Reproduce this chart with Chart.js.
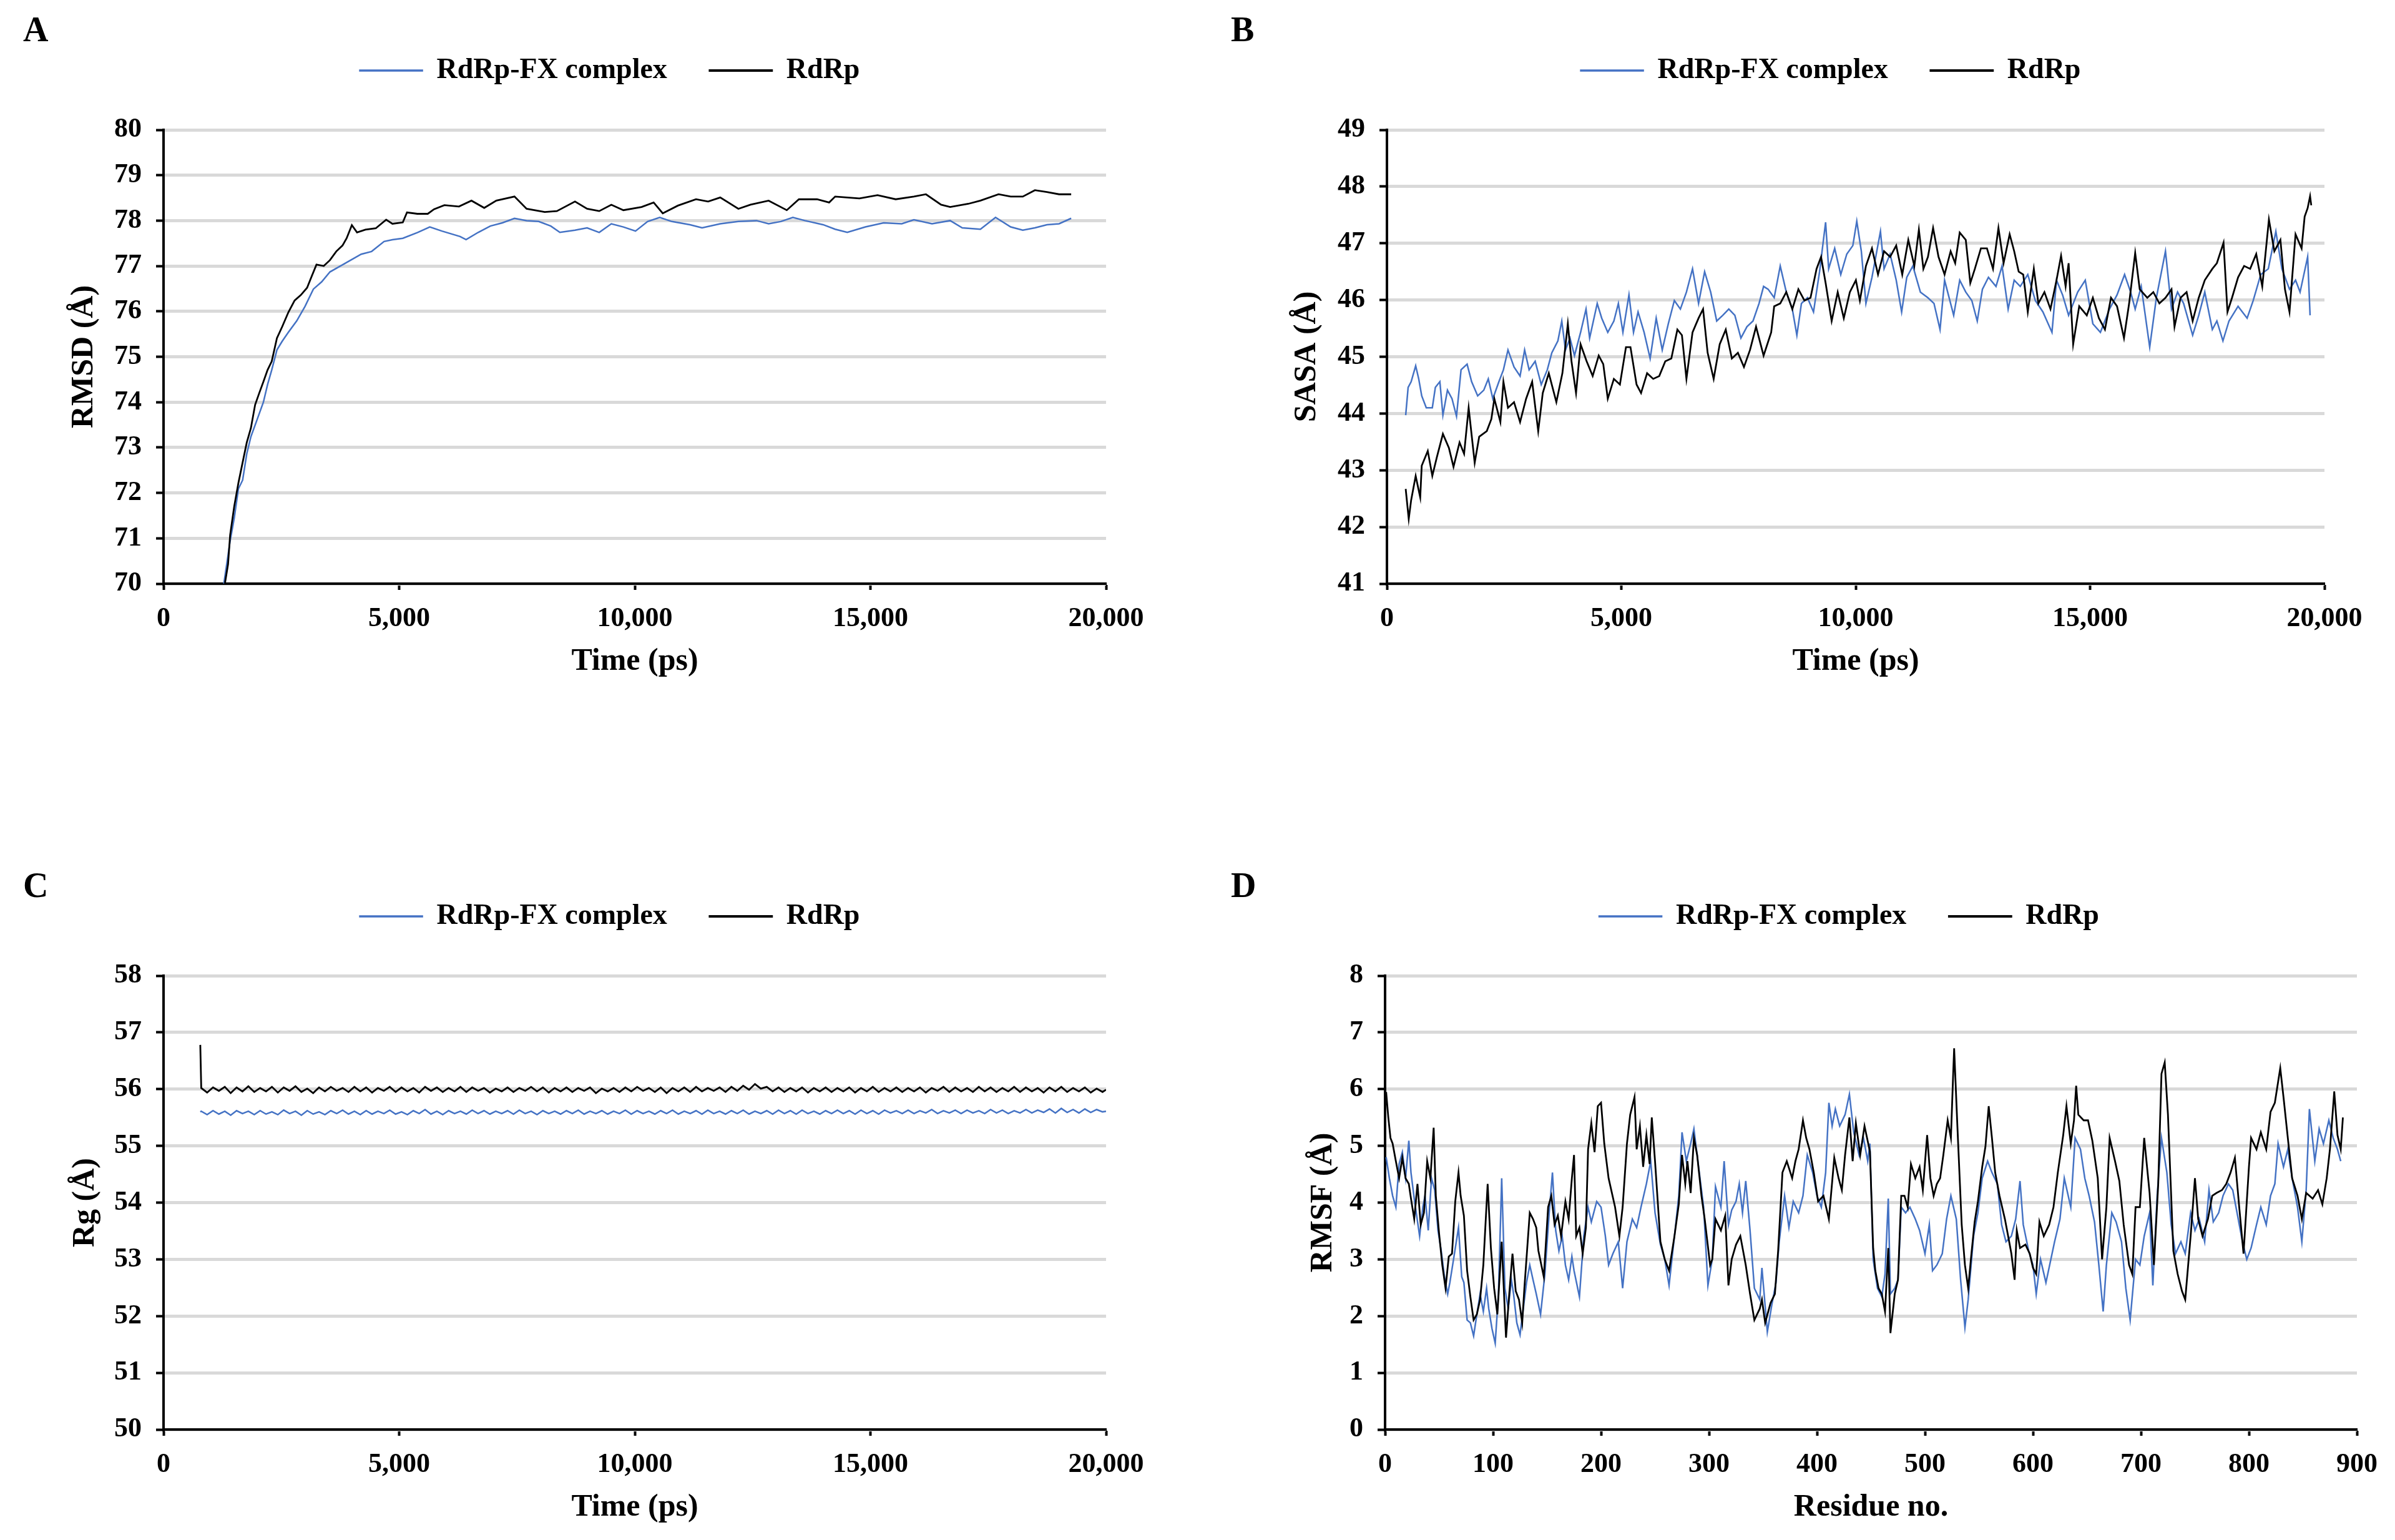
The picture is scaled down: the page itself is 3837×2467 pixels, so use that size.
<!DOCTYPE html>
<html>
<head>
<meta charset="utf-8">
<script src="https://cdn.jsdelivr.net/npm/chart.js@4.4.1/dist/chart.umd.min.js"></script>
<style>
  html, body { margin: 0; padding: 0; background: #fff; }
  #page { position: relative; width: 3837px; height: 2467px; background: #fff; overflow: hidden; }
  .panel { position: absolute; }
  .tag { position: absolute; font: bold 56px 'Liberation Serif', 'Times New Roman', serif; line-height: 1; color: #000; }
</style>
</head>
<body>
<div id="page">
  <div class="tag" style="left:37px;top:19px">A</div>
  <div class="tag" style="left:1972px;top:19px">B</div>
  <div class="tag" style="left:37px;top:1390px">C</div>
  <div class="tag" style="left:1972px;top:1390px">D</div>
  <canvas id="chartA" class="panel" width="1880" height="1095" style="left:0;top:0"></canvas>
  <canvas id="chartB" class="panel" width="1937" height="1095" style="left:1900px;top:0"></canvas>
  <canvas id="chartC" class="panel" width="1880" height="1095" style="left:0;top:1355px"></canvas>
  <canvas id="chartD" class="panel" width="1937" height="1095" style="left:1900px;top:1355px"></canvas>
</div>
<script>
// series names
var seriesNames = ['RdRp-FX complex', 'RdRp']

// A: RMSD vs time
var rmsdComplexTime = [1280,1413,1501,1589,1678,1766,1854,1987,2119,2208,2296,2406,2517,2649,2826,3002,3179,3355,3532,3753,3974,4194,4415,4680,4857,5077,5393,5650,5906,6292,6420,6677,6934,7190,7447,7704,7961,8218,8410,8731,8988,9245,9502,9758,10015,10272,10529,10786,11171,11428,11813,12198,12583,12840,13097,13354,13610,13996,14252,14509,14894,15280,15665,15922,16307,16692,16949,17334,17655,17976,18233,18490,18746,19003,19260]
var rmsdComplex = [70.0,70.94,71.45,72.09,72.28,72.86,73.24,73.62,74.0,74.39,74.71,75.15,75.34,75.54,75.79,76.11,76.49,76.65,76.87,77.0,77.13,77.26,77.32,77.54,77.58,77.61,77.74,77.86,77.77,77.65,77.58,77.74,77.88,77.95,78.05,78.0,77.98,77.88,77.74,77.79,77.84,77.74,77.93,77.86,77.77,77.98,78.07,77.98,77.91,77.84,77.93,77.98,78.0,77.93,77.98,78.07,78.0,77.91,77.81,77.74,77.86,77.95,77.93,78.02,77.93,78.0,77.84,77.81,78.07,77.86,77.79,77.84,77.91,77.93,78.05]
var rmsdApoTime = [1302,1369,1413,1501,1589,1678,1766,1854,1943,2031,2119,2208,2296,2406,2517,2649,2781,2914,3046,3135,3245,3400,3532,3664,3797,3885,3996,4106,4283,4503,4724,4857,5077,5166,5386,5607,5740,5960,6269,6534,6805,7062,7447,7704,8089,8346,8731,8988,9245,9502,9758,10144,10400,10593,10914,11299,11556,11813,12198,12455,12840,13225,13482,13867,14124,14252,14766,15151,15536,15922,16178,16499,16692,17077,17334,17719,17976,18233,18490,18746,19003,19260]
var rmsdApo = [70.0,70.43,71.07,71.71,72.22,72.67,73.11,73.43,73.94,74.2,74.45,74.71,74.9,75.41,75.66,75.98,76.24,76.36,76.52,76.75,77.03,77.0,77.13,77.32,77.45,77.61,77.9,77.74,77.8,77.83,78.02,77.93,77.96,78.18,78.15,78.15,78.25,78.34,78.31,78.44,78.28,78.44,78.53,78.26,78.19,78.21,78.42,78.26,78.21,78.35,78.23,78.30,78.40,78.16,78.33,78.47,78.42,78.51,78.26,78.35,78.44,78.23,78.47,78.47,78.40,78.53,78.49,78.56,78.47,78.53,78.58,78.35,78.30,78.37,78.44,78.58,78.53,78.53,78.67,78.63,78.58,78.58]

// B: SASA vs time
var sasaComplexTime = [400,452,516,613,678,742,839,968,1033,1129,1194,1291,1388,1484,1581,1710,1807,1936,2065,2162,2259,2388,2485,2582,2711,2840,2937,3033,3162,3292,3421,3517,3647,3730,3808,3905,4001,4131,4247,4324,4486,4582,4711,4841,4937,5034,5163,5260,5357,5486,5615,5744,5873,6002,6131,6260,6389,6519,6648,6777,6906,7035,7164,7293,7422,7551,7680,7809,7938,8035,8132,8261,8390,8519,8648,8745,8842,8971,9100,9229,9358,9423,9552,9681,9810,9939,10023,10120,
  10218,10347,10528,10605,10734,10864,10980,11089,11219,11380,11541,11670,11799,11896,12090,12219,12348,12477,12593,12703,12832,12993,13122,13252,13381,13510,13671,13832,13994,14187,14284,14413,14542,14736,14897,15059,15220,15414,15575,15736,15865,15962,16091,16272,16414,16608,16737,16866,16995,17188,17318,17447,17608,17705,17834,17963,18157,18350,18479,18641,18802,18963,19092,19254,19383,19480,19641,19693]
var sasaComplex = [43.97,44.46,44.56,44.84,44.61,44.31,44.10,44.10,44.46,44.56,43.97,44.41,44.26,43.95,44.77,44.87,44.56,44.31,44.41,44.61,44.26,44.56,44.77,45.12,44.82,44.66,45.12,44.77,44.92,44.51,44.77,45.07,45.28,45.63,45.12,45.33,45.02,45.43,45.84,45.33,45.94,45.68,45.43,45.63,45.94,45.43,46.09,45.43,45.79,45.43,44.97,45.68,45.12,45.58,45.99,45.84,46.14,46.55,45.94,46.50,46.14,45.63,45.73,45.84,45.73,45.33,45.53,45.63,45.94,46.24,46.19,46.04,46.60,46.14,45.84,45.38,45.94,46.04,45.79,46.50,47.37,46.55,46.91,46.45,46.81,46.96,47.39,46.86,
  45.94,46.40,47.21,46.55,46.81,46.35,45.79,46.40,46.60,46.14,46.04,45.94,45.48,46.35,45.73,46.35,46.14,45.99,45.63,46.19,46.40,46.24,46.60,45.84,46.35,46.24,46.45,45.99,45.79,45.43,46.35,46.09,45.73,46.14,46.35,45.58,45.43,45.84,46.09,46.45,46.14,45.84,46.24,45.17,46.04,46.86,45.84,46.14,45.94,45.38,45.73,46.14,45.48,45.63,45.28,45.63,45.89,45.68,45.99,46.45,46.55,47.21,46.55,46.19,46.35,46.14,46.76,45.73]
var sasaApoTime = [400,465,516,613,710,742,871,968,1065,1194,1323,1420,1549,1646,1743,1872,1968,2130,2227,2291,2420,2485,2582,2711,2840,2969,3098,3227,3324,3453,3614,3743,3859,3937,4034,4131,4260,4389,4518,4615,4711,4841,4970,5099,5195,5325,5421,5550,5680,5809,5938,6067,6196,6293,6389,6519,6648,6744,6841,6970,7099,7228,7358,7487,7616,7745,7874,8035,8197,8261,8390,8519,8648,8777,8907,9036,9165,9261,9358,9487,9616,9746,9875,10004,
  10089,10218,10347,10476,10605,10734,10864,10993,11122,11251,11348,11444,11541,11651,11767,11896,12025,12122,12219,12348,12445,12542,12671,12800,12929,13045,13155,13284,13381,13477,13574,13671,13800,13897,14026,14155,14284,14381,14478,14542,14639,14768,14930,15059,15188,15317,15446,15575,15723,15833,15962,16059,16220,16349,16478,16608,16737,16801,16930,17059,17188,17318,17447,17608,17705,17847,17931,18028,18157,18286,18415,18544,18673,18815,18931,19060,19157,19254,19383,19512,19577,19641,19693,19718]
var sasaApo = [42.67,42.14,42.47,42.90,42.52,43.08,43.34,42.90,43.23,43.64,43.39,43.06,43.49,43.29,44.10,43.13,43.59,43.69,43.90,44.26,43.85,44.56,44.10,44.20,43.85,44.26,44.56,43.69,44.36,44.71,44.20,44.71,45.58,44.92,44.36,45.22,44.92,44.66,45.02,44.87,44.26,44.61,44.51,45.17,45.17,44.51,44.36,44.71,44.61,44.66,44.92,44.97,45.48,45.38,44.61,45.43,45.68,45.84,45.07,44.61,45.22,45.48,44.97,45.07,44.82,45.12,45.53,45.02,45.43,45.89,45.94,46.14,45.84,46.19,45.99,46.04,46.55,46.76,46.30,45.63,46.14,45.68,46.14,46.35,
  45.99,46.60,46.91,46.45,46.86,46.76,46.96,46.45,47.06,46.60,47.24,46.55,46.76,47.27,46.76,46.45,46.86,46.65,47.19,47.06,46.30,46.55,46.91,46.91,46.55,47.27,46.65,47.16,46.86,46.50,46.45,45.79,46.55,45.94,46.14,45.84,46.35,46.78,46.24,46.65,45.22,45.89,45.73,46.04,45.68,45.48,46.04,45.89,45.33,45.94,46.83,46.19,46.04,46.14,45.94,46.04,46.19,45.53,46.04,46.14,45.63,46.04,46.35,46.55,46.65,47.01,45.79,46.04,46.40,46.60,46.55,46.81,46.24,47.42,46.86,47.06,46.19,45.79,47.16,46.91,47.47,47.62,47.83,47.67]

// C: Rg vs time (both series share the time stamps)
var rgTime = [780,800,925,1050,1175,1300,1425,1550,1675,1800,1925,2050,2175,2300,2425,2550,2675,2800,2925,3050,3175,3300,3425,3550,3675,3800,3925,4050,4175,4300,4425,4550,4675,4800,4925,5050,5175,5300,5425,5550,5675,5800,5925,6050,6175,6300,6425,6550,6675,6800,6925,7050,7175,7300,7425,7550,7675,7800,7925,8050,8175,8300,8425,8550,8675,8800,8925,9050,9175,9300,9425,9550,9675,9800,9925,10050,10175,10300,10425,10550,10675,10800,10925,11050,11175,11300,11425,11550,11675,11800,11925,12050,12175,12300,12425,12550,12675,12800,12925,13050,13175,13300,13425,13550,13675,13800,13925,14050,14175,14300,14425,14550,14675,14800,14925,15050,15175,15300,15425,15550,15675,15800,15925,16050,16175,16300,16425,16550,16675,16800,16925,17050,17175,17300,17425,17550,17675,17800,17925,18050,18175,18300,18425,18550,18675,18800,18925,19050,19175,19300,19425,19550,19675,19800,19925,20000]
var rgComplex = [55.60,
  55.61,55.55,55.62,55.56,55.61,55.54,55.62,55.57,55.61,55.55,
  55.62,55.56,55.60,55.55,55.63,55.57,55.61,55.54,55.62,55.56,
  55.60,55.55,55.62,55.57,55.63,55.56,55.61,55.55,55.62,55.56,
  55.61,55.57,55.63,55.56,55.60,55.55,55.62,55.57,55.64,55.56,
  55.61,55.55,55.62,55.57,55.61,55.56,55.63,55.57,55.62,55.56,
  55.61,55.57,55.62,55.56,55.63,55.57,55.61,55.55,55.62,55.57,
  55.61,55.56,55.62,55.57,55.63,55.56,55.61,55.57,55.62,55.56,
  55.61,55.57,55.63,55.56,55.62,55.57,55.61,55.56,55.62,55.57,
  55.63,55.56,55.61,55.57,55.62,55.56,55.63,55.57,55.61,55.56,
  55.62,55.57,55.63,55.56,55.61,55.57,55.62,55.56,55.63,55.57,
  55.62,55.56,55.63,55.57,55.61,55.56,55.62,55.57,55.63,55.57,
  55.62,55.56,55.63,55.57,55.62,55.56,55.63,55.58,55.62,55.57,
  55.63,55.57,55.62,55.58,55.64,55.57,55.62,55.58,55.63,55.57,
  55.63,55.58,55.62,55.57,55.64,55.58,55.63,55.57,55.62,55.58,
  55.64,55.58,55.63,55.59,55.65,55.58,55.66,55.59,55.64,55.58,
  55.65,55.59,55.64,55.60,55.61]
var rgApo = [56.78,
  56.02,55.94,56.03,55.97,56.04,55.93,56.03,55.96,56.05,55.95,
  56.02,55.96,56.04,55.94,56.03,55.97,56.05,55.95,56.01,55.93,
  56.03,55.96,56.04,55.97,56.02,55.95,56.04,55.96,56.03,55.94,
  56.02,55.97,56.04,55.95,56.03,55.96,56.02,55.94,56.04,55.97,
  56.03,55.95,56.02,55.96,56.04,55.95,56.03,55.97,56.02,55.94,
  56.01,55.96,56.03,55.95,56.02,55.97,56.04,55.96,56.03,55.94,
  56.02,55.96,56.03,55.95,56.02,55.97,56.03,55.93,56.01,55.96,
  56.02,55.95,56.03,55.96,56.04,55.97,56.02,55.95,56.03,55.93,
  56.02,55.96,56.03,55.95,56.04,55.96,56.02,55.97,56.03,55.95,
  56.04,55.97,56.06,55.99,56.09,56.01,56.04,55.96,56.03,55.95,
  56.02,55.96,56.03,55.94,56.02,55.96,56.03,55.95,56.02,55.96,
  56.03,55.94,56.02,55.96,56.04,55.95,56.02,55.96,56.03,55.95,
  56.02,55.96,56.03,55.94,56.02,55.97,56.04,55.95,56.03,55.96,
  56.02,55.95,56.04,55.96,56.03,55.95,56.02,55.96,56.04,55.95,
  56.03,55.96,56.02,55.94,56.03,55.96,56.04,55.95,56.02,55.96,
  56.03,55.94,56.01,55.95,55.99]

// D: RMSF per residue
var rmsfComplexRes = [1,4,7,10,13,16,19,22,24,27,32,35,37,40,43,46,49,52,55,58,60,63,68,71,73,76,79,82,85,88,91,94,96,99,102,105,108,111,114,117,119,122,125,128,131,134,137,140,144,148,152,155,158,161,164,167,170,173,175,180,184,188,191,196,200,204,207,211,216,220,224,229,233,237,242,246,250,255,259,263,268,272,275,279,283,286,291,295,299,303,306,311,314,318,321,325,328,331,334,338,342,347,349,354,358,362,365,370,374,378,383,387,391,396,400,404,408,411,414,417,421,426,430,434,439,443,447,
  449,452,456,460,463,466,468,472,475,478,482,486,491,495,500,504,507,511,516,520,524,529,533,537,540,545,549,553,558,562,567,571,575,580,584,588,591,596,600,603,607,612,616,620,625,629,635,639,644,648,652,657,661,665,668,673,677,682,686,690,695,699,703,708,711,715,719,724,728,732,737,741,746,750,754,759,763,767,772,776,781,785,789,794,798,802,807,811,816,820,824,827,832,836,840,845,849,853,856,861,865,869,874,878,882,885]
var rmsfComplex = [4.8,4.43,4.12,3.92,4.68,4.89,4.43,5.09,4.53,4.07,3.41,3.92,4.12,3.51,4.43,4.22,3.51,3.15,2.69,2.39,2.59,2.95,3.56,2.69,2.59,1.93,1.88,1.65,2.03,2.39,2.08,2.49,2.13,1.78,1.52,2.39,4.43,2.49,2.13,2.64,2.39,1.88,1.67,2.13,2.59,2.90,2.64,2.39,2.03,2.74,3.82,4.53,3.51,3.15,3.41,2.90,2.64,3.05,2.80,2.34,3.41,3.92,3.66,4.02,3.92,3.41,2.90,3.10,3.31,2.49,3.31,3.71,3.56,3.92,4.33,4.73,3.82,3.26,3.0,2.54,3.41,4.12,5.24,4.73,5.04,5.30,4.53,3.92,2.54,3.0,4.28,3.92,4.73,3.61,3.87,4.02,4.33,3.82,4.38,3.51,2.49,2.29,2.85,1.72,2.18,2.59,3.31,4.12,3.56,4.02,3.82,4.12,4.84,4.53,4.12,3.92,4.53,5.76,5.35,5.65,5.35,5.55,5.91,5.24,4.84,5.14,4.73,
  5.04,3.0,2.49,2.34,2.74,4.07,2.39,2.49,2.64,3.92,3.82,3.92,3.71,3.51,3.10,3.61,2.80,2.90,3.10,3.71,4.12,3.71,2.64,1.80,2.29,3.41,3.82,4.43,4.73,4.53,4.33,3.61,3.31,3.41,3.71,4.38,3.61,3.15,2.90,2.39,3.0,2.59,2.95,3.31,3.71,4.43,3.92,5.14,4.94,4.43,4.12,3.66,2.90,2.08,2.90,3.82,3.66,3.31,2.49,1.93,3.0,2.90,3.41,3.82,2.54,4.12,5.14,4.53,3.61,3.10,3.31,3.10,3.82,3.51,3.71,3.31,4.22,3.66,3.82,4.12,4.33,4.22,3.82,3.31,3.0,3.20,3.61,3.92,3.61,4.12,4.33,5.04,4.63,4.94,4.43,3.92,3.31,4.22,5.65,4.73,5.30,5.04,5.45,5.14,4.94,4.73]
var rmsfApoRes = [1,3,5,7,10,13,16,19,22,24,27,30,33,36,39,42,45,47,50,53,56,59,62,65,68,70,73,76,79,82,85,88,91,95,98,101,104,108,112,115,118,121,124,127,129,134,137,140,142,147,151,154,157,160,163,167,170,173,175,177,180,183,186,188,191,194,197,200,203,207,213,217,220,224,227,231,233,236,239,242,245,247,250,255,259,263,268,272,275,278,280,283,286,289,293,296,301,303,306,311,315,318,321,325,329,334,338,342,347,349,352,357,361,364,368,372,377,380,383,387,390,393,397,401,406,411,416,420,423,426,430,433,436,440,444,449,
  452,454,457,460,463,466,468,472,475,478,481,484,487,491,495,498,502,505,508,511,514,517,521,524,526,527,530,534,537,540,543,546,549,553,556,559,562,565,569,574,577,580,583,585,588,593,597,600,603,606,610,615,619,623,628,631,635,638,640,642,647,651,655,660,664,668,671,676,680,684,689,692,695,699,703,708,712,716,719,722,725,730,734,738,741,746,750,753,757,762,766,770,775,779,783,787,791,795,800,802,807,811,816,820,824,829,832,836,840,845,849,853,859,864,868,872,875,879,882,885,887]
var rmsfApo = [5.95,5.5,5.14,5.04,4.73,4.43,4.79,4.43,4.33,4.07,3.71,4.33,3.61,3.82,4.73,4.43,5.32,4.12,3.46,2.90,2.49,3.05,3.10,4.02,4.53,4.12,3.77,2.80,2.34,1.93,2.03,2.29,2.90,4.33,3.20,2.49,2.03,3.31,1.62,2.39,3.10,2.44,2.29,1.88,2.49,3.82,3.71,3.56,3.15,2.69,3.92,4.12,3.61,3.77,3.41,4.02,3.71,4.43,4.84,3.41,3.56,3.10,3.56,4.94,5.40,4.89,5.70,5.76,5.04,4.43,3.92,3.41,3.92,5.04,5.55,5.86,4.94,5.35,4.63,5.19,4.68,5.50,4.73,3.31,3.0,2.80,3.41,3.97,4.84,4.33,4.73,4.17,5.14,4.84,4.12,3.71,2.90,3.0,3.71,3.51,3.77,2.54,3.0,3.26,3.41,2.90,2.39,1.93,2.13,2.29,1.88,2.23,2.39,3.15,4.53,4.73,4.43,4.73,4.94,5.45,5.14,4.94,4.53,4.02,4.12,3.71,4.79,4.43,4.22,4.84,5.50,4.73,5.40,4.84,5.35,4.9,
  3.20,2.80,2.49,2.39,2.08,3.20,1.70,2.39,2.64,4.12,4.12,3.92,4.68,4.43,4.63,4.22,5.19,4.43,4.12,4.33,4.43,4.84,5.45,5.14,6.21,6.72,5.35,3.61,2.90,2.49,3.10,3.66,4.02,4.63,4.99,5.70,5.14,4.53,4.12,3.71,3.41,3.10,2.64,3.51,3.20,3.26,3.10,2.85,2.74,3.66,3.41,3.61,3.92,4.53,5.19,5.70,5.04,5.45,6.06,5.55,5.45,5.45,5.09,4.43,3.0,3.92,5.14,4.73,4.38,3.61,2.90,2.74,3.92,3.92,5.14,4.17,2.90,4.33,6.27,6.47,5.55,3.15,2.74,2.44,2.29,3.41,4.43,3.71,3.41,3.71,4.12,4.17,4.22,4.33,4.53,4.79,3.92,3.10,4.63,5.14,4.94,5.24,4.94,5.60,5.76,6.37,5.86,5.14,4.43,4.12,3.71,4.17,4.07,4.22,3.97,4.43,4.94,5.96,5.19,4.94,5.50]

var BLUE = '#4472C4'
var BLACK = '#000000'
var GRID = '#d9d9d9'
var FONT = "'Liberation Serif', 'Times New Roman', serif"

Chart.defaults.font.family = FONT
Chart.defaults.font.weight = 'bold'
Chart.defaults.color = '#000'

// nudges the legend to the spot it has in the figure
var legendShift = {
  id: 'legendShift',
  defaults: { dx: 0, dy: 0 },
  afterLayout: function (chart, args, opts) {
    var lg = chart.legend
    lg.left += opts.dx
    lg.right += opts.dx
    lg.top += opts.dy
    lg.bottom += opts.dy
  }
}
Chart.register(legendShift)

function pairs (xs, ys) {
  return xs.map(function (x, i) { return { x: x, y: ys[i] } })
}

function withCommas (v) {
  return Number(v).toLocaleString('en-US')
}

function makePanel (id, spec) {
  var canvas = document.getElementById(id)
  return new Chart(canvas, {
    type: 'line',
    data: {
      datasets: [
        { label: seriesNames[0], data: pairs(spec.complexX, spec.complexY), borderColor: BLUE, backgroundColor: BLUE, borderWidth: 2.5, order: 1 },
        { label: seriesNames[1], data: pairs(spec.apoX, spec.apoY), borderColor: BLACK, backgroundColor: BLACK, borderWidth: 2.8, order: 0 }
      ]
    },
    options: {
      responsive: false,
      animation: false,
      devicePixelRatio: 1,
      layout: { padding: { left: 0, right: spec.padRight, top: 84, bottom: 0 } },
      elements: { point: { radius: 0 }, line: { tension: 0 } },
      plugins: {
        legend: {
          fullSize: false,
          labels: {
            font: { size: 46, weight: 'bold', family: FONT },
            color: '#000',
            boxWidth: 100,
            boxHeight: 1,
            padding: 68,
            sort: function (a, b) { return a.datasetIndex - b.datasetIndex }
          }
        },
        legendShift: { dx: spec.legendDx, dy: -62 },
        tooltip: { enabled: false }
      },
      scales: {
        x: {
          type: 'linear',
          min: spec.xMin,
          max: spec.xMax,
          afterFit: function (s) { s.height = 160 },
          ticks: { stepSize: spec.xStep, callback: withCommas, font: { size: 44 }, padding: 20, maxRotation: 0, autoSkip: false },
          grid: { drawOnChartArea: false, drawTicks: true, tickLength: 10, tickColor: '#000', tickWidth: 4 },
          border: { color: '#000', width: 4 },
          title: { display: true, text: spec.xTitle, font: { size: 50 }, padding: { top: 0, bottom: 5 } }
        },
        y: {
          min: spec.yMin,
          max: spec.yMax,
          afterFit: function (s) { s.width = spec.yAxisWidth },
          ticks: { stepSize: 1, font: { size: 44 }, padding: 23 },
          grid: { color: GRID, lineWidth: 5, drawTicks: true, tickLength: 12, tickColor: '#000', tickWidth: 4 },
          border: { color: '#000', width: 4 },
          title: { display: true, text: spec.yTitle, font: { size: 50 }, padding: { top: spec.yTitlePad, bottom: 0 } }
        }
      }
    }
  })
}

makePanel('chartA', {
  complexX: rmsdComplexTime, complexY: rmsdComplex, apoX: rmsdApoTime, apoY: rmsdApo,
  xMin: 0, xMax: 20000, xStep: 5000, yMin: 70, yMax: 80,
  xTitle: 'Time (ps)', yTitle: 'RMSD (Å)',
  yAxisWidth: 262, yTitlePad: 105, padRight: 108, legendDx: -40
})
makePanel('chartB', {
  complexX: sasaComplexTime, complexY: sasaComplex, apoX: sasaApoTime, apoY: sasaApo,
  xMin: 0, xMax: 20000, xStep: 5000, yMin: 41, yMax: 49,
  xTitle: 'Time (ps)', yTitle: 'SASA (Å)',
  yAxisWidth: 322, yTitlePad: 164, padRight: 113, legendDx: -40
})
makePanel('chartC', {
  complexX: rgTime, complexY: rgComplex, apoX: rgTime, apoY: rgApo,
  xMin: 0, xMax: 20000, xStep: 5000, yMin: 50, yMax: 58,
  xTitle: 'Time (ps)', yTitle: 'Rg (Å)',
  yAxisWidth: 262, yTitlePad: 107, padRight: 108, legendDx: -40
})
makePanel('chartD', {
  complexX: rmsfComplexRes, complexY: rmsfComplex, apoX: rmsfApoRes, apoY: rmsfApo,
  xMin: 0, xMax: 900, xStep: 100, yMin: 0, yMax: 8,
  xTitle: 'Residue no.', yTitle: 'RMSF (Å)',
  yAxisWidth: 319, yTitlePad: 190, padRight: 61, legendDx: -35
})
</script>
</body>
</html>
